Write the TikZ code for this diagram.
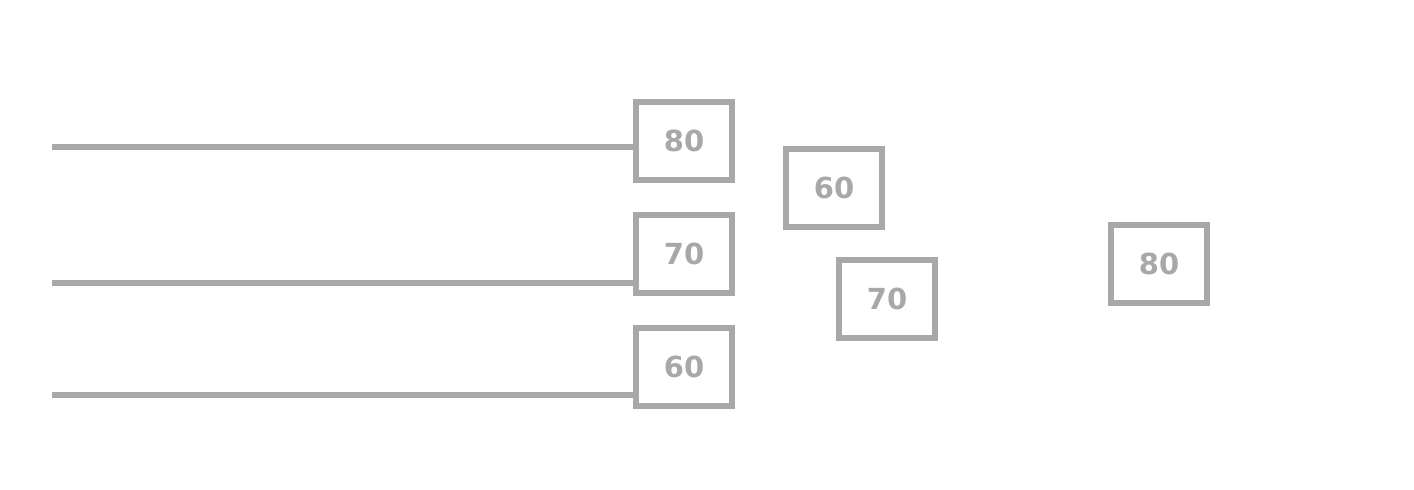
\documentclass[tikz,border=0pt]{standalone}
\usepackage{fontspec}
\setmainfont{DejaVu Sans}
\definecolor{gr}{HTML}{A8A8A8}
\begin{document}
\begin{tikzpicture}[x=1pt,y=-1pt,
  valbox/.style={draw=gr, line width=6pt, minimum width=96pt, minimum height=78pt, inner sep=0pt, text=gr, font=\bfseries\fontsize{29}{32}\selectfont},
  wire/.style={draw=gr, line width=6pt}]
\useasboundingbox (0,0) rectangle (1414,490);
\node[valbox] (b1) at (684,141) {80};
\node[valbox] (b2) at (684,254) {70};
\node[valbox] (b3) at (684,367) {60};
\node[valbox] (b4) at (834,188) {60};
\node[valbox] (b5) at (887,299) {70};
\node[valbox] (b6) at (1159,264) {80};
\coordinate (s1) at (52,147);
\coordinate (s2) at (52,283);
\coordinate (s3) at (52,395);
\draw[wire] (s1) -- (s1 -| b1.west);
\draw[wire] (s2) -- (s2 -| b2.west);
\draw[wire] (s3) -- (s3 -| b3.west);
\end{tikzpicture}
\end{document}
